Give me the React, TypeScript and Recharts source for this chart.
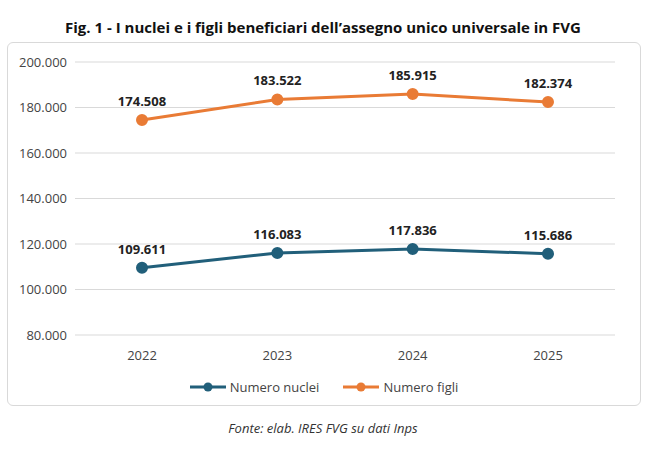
import React from "react";
import { LineChart, Line, XAxis, YAxis, CartesianGrid, LabelList } from "recharts";

const years = ["2022", "2023", "2024", "2025"];
const nuclei = [109611, 116083, 117836, 115686];
const figli = [174508, 183522, 185915, 182374];
const yTicks = [80000, 100000, 120000, 140000, 160000, 180000, 200000];
const series = [
  { key: "nuclei", name: "Numero nuclei", color: "#215F7A" },
  { key: "figli", name: "Numero figli", color: "#E97B35" },
];

const data = years.map((y, i) => ({ year: y, nuclei: nuclei[i], figli: figli[i] }));

const fmt = (v: number) => String(v).replace(/\B(?=(\d{3})+(?!\d))/g, ".");
const font = "'Open Sans', 'Liberation Sans', sans-serif";

const App = () => {
  return (
    <div style={{ position: "absolute", left: 0, top: 0, width: 669, height: 469, background: "#fff", fontFamily: font }}>
      <div style={{ position: "absolute", top: 17, left: 0, width: 646, textAlign: "center", fontWeight: 700, fontSize: 15, color: "#111" }}>
        Fig. 1 - I nuclei e i figli beneficiari dell’assegno unico universale in FVG
      </div>
      <div style={{ position: "absolute", left: 7, top: 42, width: 632, height: 362, border: "1px solid #d9d9d9", borderRadius: 6 }}>
        <LineChart width={632} height={360} data={data} margin={{ top: 19, right: 25, left: 0, bottom: 0 }}>
          <CartesianGrid vertical={false} stroke="#d9d9d9" />
          <XAxis dataKey="year" height={68} padding={{ left: 67, right: 67 }} axisLine={false} tickLine={false} tick={{ fill: "#444", fontSize: 13, fontFamily: font }} dy={8} />
          <YAxis width={67} domain={[80000, 200000]} ticks={yTicks} tickFormatter={fmt} axisLine={false} tickLine={false} tick={{ fill: "#444", fontSize: 13, fontFamily: font }} />
          {series.map((s) => (
            <Line key={s.key} dataKey={s.key} name={s.name} stroke={s.color} strokeWidth={3} dot={{ r: 4.5, fill: s.color, stroke: s.color }} isAnimationActive={false}>
              <LabelList dataKey={s.key} position="top" offset={14} formatter={(v: any) => fmt(v)} style={{ fill: "#222", fontWeight: 700, fontSize: 13, fontFamily: font }} />
            </Line>
          ))}
        </LineChart>
        <div style={{ position: "absolute", top: 335, left: 0, width: 632, display: "flex", justifyContent: "center", gap: 24, fontSize: 13, color: "#444" }}>
          {series.map((s) => (
            <div key={s.key} style={{ display: "flex", alignItems: "center", gap: 4 }}>
              <svg width={36} height={12}>
                <line x1={0} y1={6} x2={36} y2={6} stroke={s.color} strokeWidth={3} />
                <circle cx={18} cy={6} r={4.5} fill={s.color} />
              </svg>
              <span>{s.name}</span>
            </div>
          ))}
        </div>
      </div>
      <div style={{ position: "absolute", top: 419, left: 0, width: 646, textAlign: "center", fontStyle: "italic", fontSize: 13, color: "#333" }}>
        Fonte: elab. IRES FVG su dati Inps
      </div>
    </div>
  );
};

export default App;
